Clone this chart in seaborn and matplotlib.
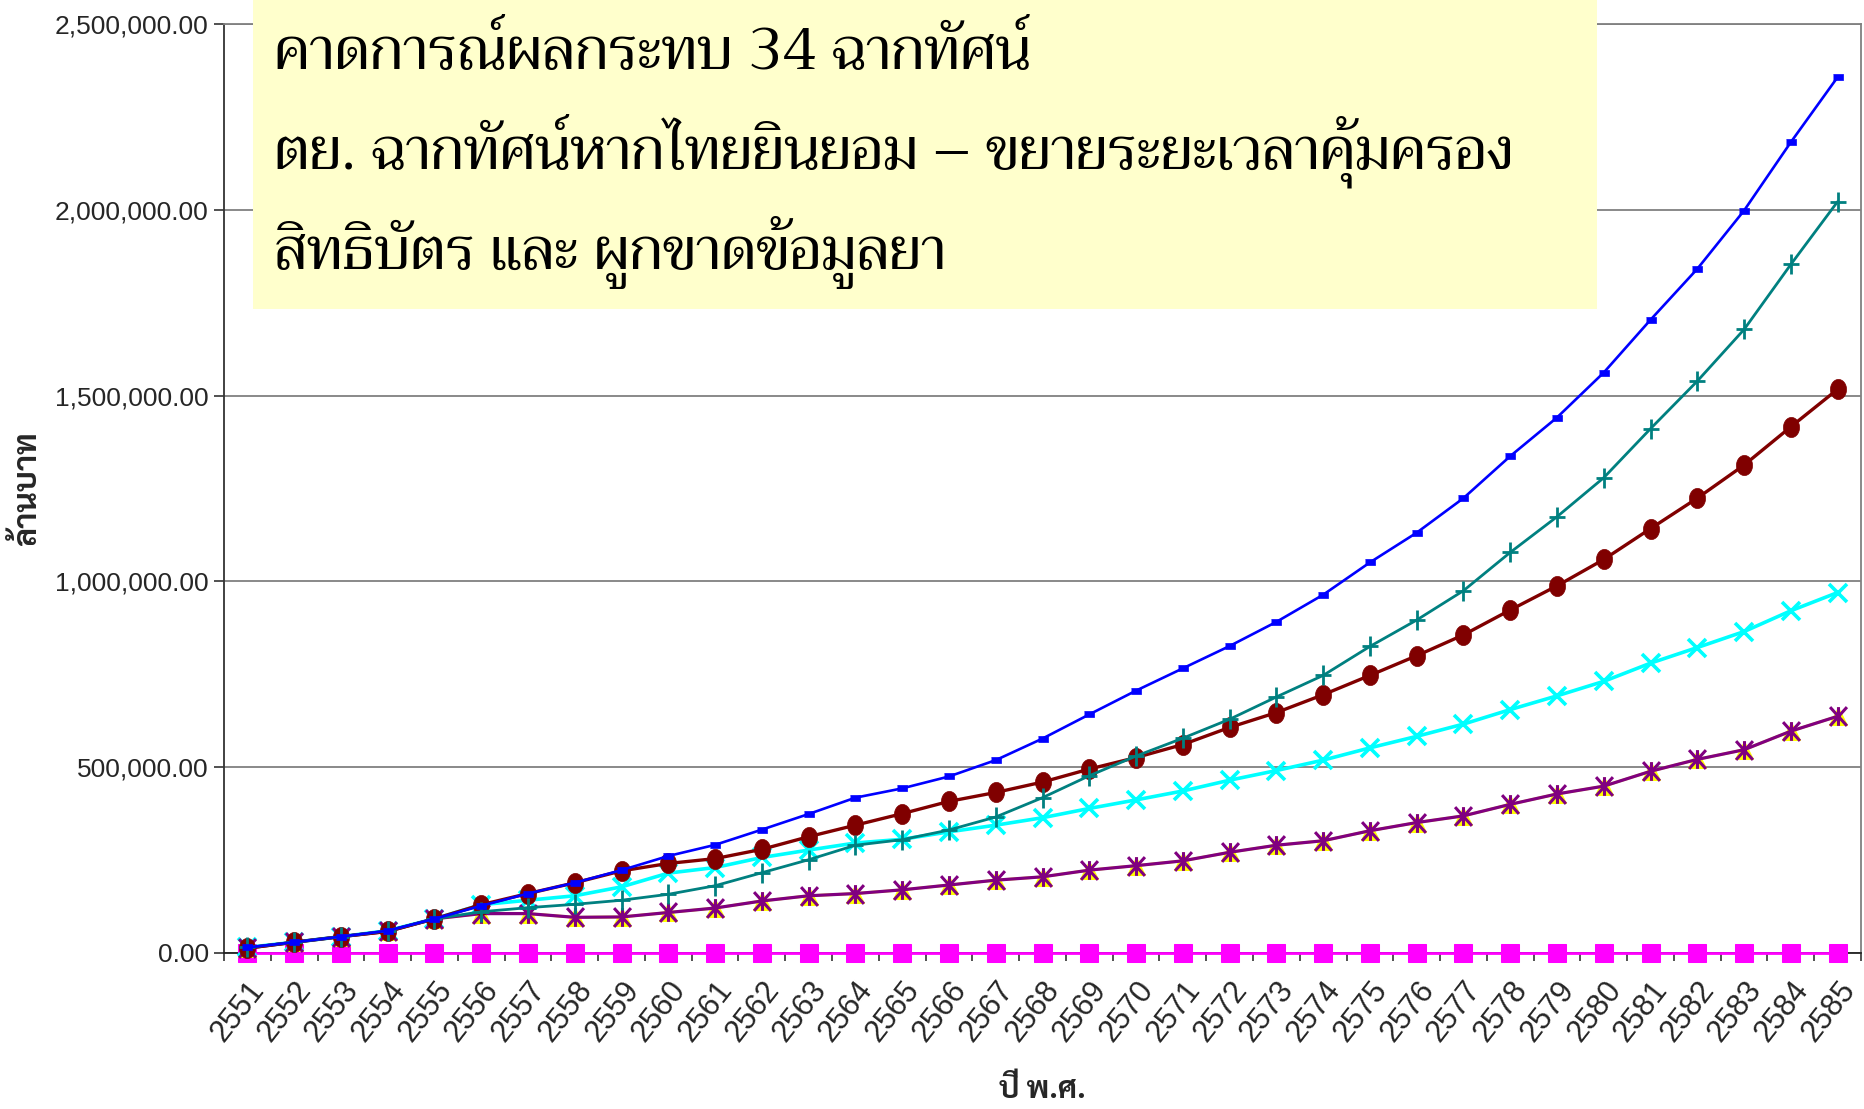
import numpy as np
import pandas as pd
import matplotlib
matplotlib.use('Agg')
import matplotlib.pyplot as plt
import seaborn as sns
from matplotlib.path import Path
from matplotlib.patches import Rectangle
from matplotlib.ticker import FuncFormatter, FixedLocator
from matplotlib.transforms import ScaledTranslation

# ปี พ.ศ. 2551 - 2585
years = [str(y) for y in range(2551, 2586)]

# มูลค่าผลกระทบ (ล้านบาท) อ่านค่าจากกราฟ
blue_dash = [15000, 29000, 44000, 60000, 92000, 127000, 160000, 189000, 223000, 261000,
             291000, 332000, 374000, 418000, 443000, 475000, 519000, 577000, 642000, 706000,
             766000, 826000, 891000, 964000, 1051000, 1131000, 1224000, 1337000, 1441000, 1562000,
             1704000, 1841000, 1998000, 2182000, 2357000]
teal_plus = [15000, 29000, 44000, 60000, 92000, 111000, 122000, 131000, 142000, 158000,
             181000, 216000, 251000, 290000, 305000, 331000, 366000, 418000, 477000, 530000,
             578000, 629000, 689000, 747000, 825000, 896000, 975000, 1078000, 1174000, 1279000,
             1411000, 1539000, 1678000, 1853000, 2022000]
red_circle = [13000, 29000, 44000, 58000, 92000, 130000, 160000, 189000, 221000, 241000,
              254000, 279000, 313000, 344000, 375000, 408000, 432000, 460000, 495000, 526000,
              561000, 607000, 647000, 695000, 747000, 800000, 856000, 923000, 988000, 1059000,
              1142000, 1224000, 1313000, 1416000, 1517000]
cyan_x = [15000, 29000, 44000, 60000, 92000, 130000, 142000, 154000, 178000, 215000,
          230000, 257000, 277000, 296000, 306000, 326000, 344000, 364000, 389000, 412000,
          436000, 465000, 491000, 519000, 552000, 583000, 616000, 655000, 692000, 731000,
          780000, 822000, 865000, 921000, 970000]
purple_star = [13000, 29000, 44000, 58000, 92000, 106000, 106000, 96000, 97000, 109000,
               121000, 140000, 154000, 160000, 170000, 183000, 196000, 205000, 223000, 235000,
               248000, 271000, 290000, 302000, 329000, 351000, 369000, 400000, 428000, 449000,
               489000, 521000, 547000, 597000, 637000]
yellow_tri = purple_star
magenta_sq = [0] * 35

title_lines = ['คาดการณ์ผลกระทบ 34 ฉากทัศน์',
               'ตย. ฉากทัศน์หากไทยยินยอม – ขยายระยะเวลาคุ้มครอง',
               'สิทธิบัตร และ ผูกขาดข้อมูลยา']

sns.set_theme(style='white')
plt.rcParams['font.family'] = ['Liberation Sans', 'DejaVu Sans']

# marker shapes แบบ Excel
plus_m = Path([(-0.75, 0), (0.75, 0), (0, -1), (0, 1)],
              [Path.MOVETO, Path.LINETO, Path.MOVETO, Path.LINETO])
star_m = Path([(-0.9, -1), (0.9, 1), (-0.9, 1), (0.9, -1), (0, -1), (0, 1)],
              [Path.MOVETO, Path.LINETO, Path.MOVETO, Path.LINETO, Path.MOVETO, Path.LINETO])
dash_m = [(-1, -0.55), (1, -0.55), (1, 0.55), (-1, 0.55)]
t = np.linspace(0, 2 * np.pi, 40)
ell_m = list(zip(0.8 * np.cos(t), np.sin(t)))

fig = plt.figure(figsize=(18.65, 11.09), dpi=100)
ax = fig.add_axes([224 / 1865, 1 - 953 / 1109, 1637 / 1865, 929 / 1109])

x = np.arange(len(years))

sns.lineplot(x=x, y=magenta_sq, ax=ax, color='#FF00FF', lw=2.0, marker='s', markersize=12.5,
             markeredgecolor='#FF00FF', zorder=3, clip_on=False)
sns.lineplot(x=x, y=yellow_tri, ax=ax, color='#FFFF00', lw=2.0, marker='^', markersize=12.5,
             markeredgecolor='#FFFF00', zorder=3, clip_on=False)
sns.lineplot(x=x, y=cyan_x, ax=ax, color='#00FFFF', lw=2.6, marker='x', markersize=12.5,
             markeredgewidth=2.6, markeredgecolor='#00FFFF', zorder=3, clip_on=False)
sns.lineplot(x=x, y=purple_star, ax=ax, color='#800080', lw=2.3, marker=star_m, markersize=13.5,
             markeredgewidth=2.2, markeredgecolor='#800080', markerfacecolor='none', zorder=3,
             clip_on=False)
sns.lineplot(x=x, y=red_circle, ax=ax, color='#800000', lw=2.4, marker=ell_m, markersize=14.5,
             markeredgewidth=0.5, markeredgecolor='#800000', markerfacecolor='#800000', zorder=3,
             clip_on=False)
sns.lineplot(x=x, y=teal_plus, ax=ax, color='#008080', lw=2.0, marker=plus_m, markersize=15,
             markeredgewidth=2.0, markeredgecolor='#008080', markerfacecolor='none', zorder=3,
             clip_on=False)
sns.lineplot(x=x, y=blue_dash, ax=ax, color='#0000FF', lw=1.9, marker=dash_m, markersize=7.5,
             markeredgewidth=0.5, markeredgecolor='#0000FF', markerfacecolor='#0000FF', zorder=3,
             clip_on=False)

ax.set_xlim(-0.5, len(years) - 0.5)
ax.set_ylim(0, 2500000)
ax.set_yticks(np.arange(0, 2500001, 500000))
ax.yaxis.set_major_formatter(FuncFormatter(lambda v, p: f'{v:,.2f}'))
ax.set_xticks(x)
ax.set_xticklabels(years, rotation=52, ha='right', rotation_mode='anchor')
ax.xaxis.set_minor_locator(FixedLocator(np.arange(-0.5, len(years), 1.0)))
shift = ScaledTranslation(-4 / 72, 0, fig.dpi_scale_trans)
for lab in ax.get_xticklabels():
    lab.set_transform(lab.get_transform() + shift)

ax.tick_params(axis='y', which='major', direction='out', length=7, width=1.2, color='#333333',
               labelsize=19, pad=4, left=True)
ax.tick_params(axis='x', which='major', length=0, labelsize=22, pad=16)
ax.tick_params(axis='x', which='minor', direction='out', length=6, width=1.2, color='#333333',
               bottom=True)

ax.grid(axis='y', color='#808080', lw=1.3)
ax.set_axisbelow(True)
for s in ['top', 'right']:
    ax.spines[s].set_color('#808080')
    ax.spines[s].set_linewidth(1.3)
ax.spines['left'].set_color('#333333')
ax.spines['bottom'].set_color('#222222')
ax.spines['left'].set_linewidth(1.3)
ax.spines['bottom'].set_linewidth(1.3)
ax.spines['bottom'].set_zorder(2.5)

ax.set_xlabel('ปี พ.ศ.', family=['Sarabun', 'DejaVu Sans'], weight='bold', fontsize=22)
ax.set_ylabel('ล้านบาท', family=['Sarabun', 'DejaVu Sans'], weight='bold', fontsize=23)
ax.xaxis.label.set_va('center')
ax.yaxis.label.set_va('center')
ax.xaxis.set_label_coords(0.5, -(1090 - 953) / 929)
ax.yaxis.set_label_coords(-(224 - 28) / 1637, 0.5)

# กล่องหัวข้อสีเหลือง
box = Rectangle((253 / 1865, 1 - 309 / 1109), 1344 / 1865, 309 / 1109,
                transform=fig.transFigure, facecolor='#FFFFCC', edgecolor='none', zorder=10)
fig.add_artist(box)
baselines = [69, 169, 269]
for line, b in zip(title_lines, baselines):
    fig.text(274 / 1865, 1 - b / 1109, line, family=['Trirong', 'DejaVu Serif'], fontsize=42,
             va='baseline', ha='left', color='black', zorder=11)

fig.savefig('out.png', dpi=100)
